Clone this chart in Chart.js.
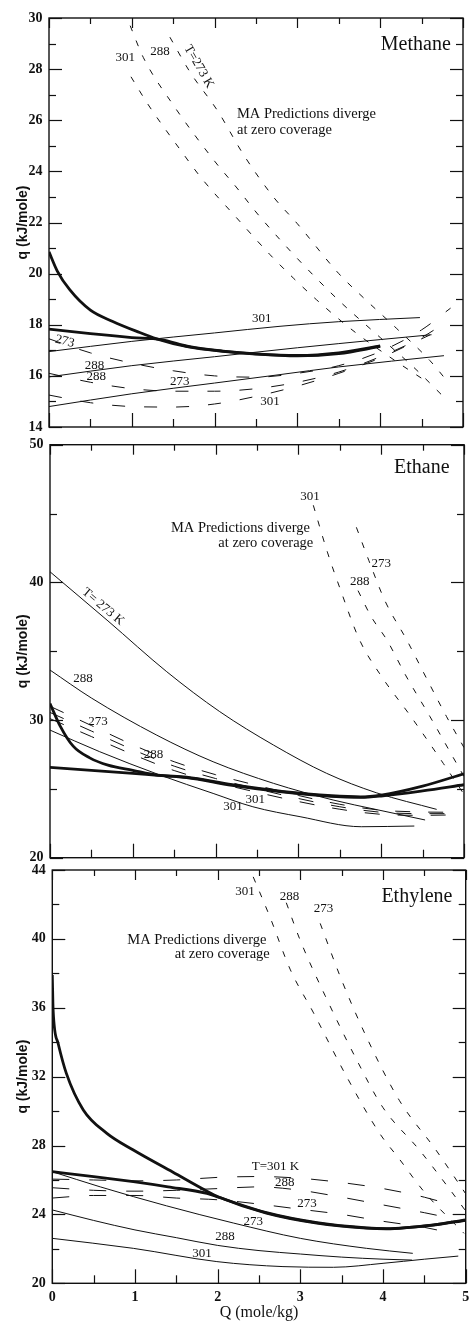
<!DOCTYPE html>
<html>
<head>
<meta charset="utf-8">
<title>Isosteric heats - Methane, Ethane, Ethylene</title>
<script src="https://cdn.jsdelivr.net/npm/chart.js@4.4.1/dist/chart.umd.min.js"></script>
<style>
  html, body { margin: 0; padding: 0; background: #fff; }
  body { width: 469px; height: 1324px; position: relative; overflow: hidden; }
  .panel { position: absolute; left: 0; width: 469px; }
</style>
</head>
<body>
<div class="panel" style="top:0;height:437px"><canvas id="methane"></canvas></div>
<div class="panel" style="top:437px;height:425px"><canvas id="ethane"></canvas></div>
<div class="panel" style="top:862px;height:462px"><canvas id="ethylene"></canvas></div>

<script>
// ============================================================
// Heat of adsorption q vs loading Q — three stacked panels
// ============================================================

// ── Axis ticks ───────────────────────────────────────────────
const qTicks = [0, 1, 2, 3, 4, 5];
const qHalfTicks = [0.5, 1.5, 2.5, 3.5, 4.5];

const methaneYTicks = [14, 16, 18, 20, 22, 24, 26, 28, 30];
const methaneYMinor = [15, 17, 19, 21, 23, 25, 27, 29];
const ethaneYTicks = [20, 30, 40, 50];
const ethaneYMinor = [25, 35, 45];
const ethyleneYTicks = [20, 24, 28, 32, 36, 40, 44];
const ethyleneYMinor = [22, 26, 30, 34, 38, 42];

// ── Methane series [Q, q] ────────────────────────────────────
const methaneThickA = [[0, 20.85], [0.1, 20.1], [0.25, 19.37], [0.5, 18.57], [0.77, 18.13], [1.06, 17.74], [1.3, 17.45], [1.7, 17.12], [2.1, 16.96], [2.5, 16.85], [3.0, 16.78], [3.5, 16.87], [4.0, 17.15]];
const methaneThickB = [[0, 17.83], [0.5, 17.65], [1.0, 17.5], [1.35, 17.42], [1.7, 17.14], [2.1, 16.97], [2.5, 16.86], [3.0, 16.8], [3.5, 16.9], [4.0, 17.17]];
const methaneSolid301 = [[0, 16.95], [1, 17.35], [2, 17.68], [2.79, 17.94], [3.5, 18.12], [4.48, 18.28]];
const methaneSolid288 = [[0, 15.96], [1, 16.4], [2, 16.75], [3, 17.1], [4, 17.42], [4.62, 17.61]];
const methaneSolid273 = [[0, 14.8], [1, 15.3], [2, 15.72], [2.79, 16.05], [3.5, 16.35], [4.77, 16.79]];
const methaneDash273 = [[0, 17.45], [0.5, 16.9], [1, 16.5], [1.5, 16.2], [2, 16.0], [2.5, 15.95], [3, 16.1], [3.5, 16.4], [4, 16.95], [4.5, 17.8], [4.85, 18.65]];
const methaneDash288 = [[0, 16.1], [0.5, 15.75], [1, 15.5], [1.5, 15.4], [2, 15.4], [2.5, 15.5], [3, 15.75], [3.5, 16.15], [4, 16.75], [4.5, 17.5], [4.75, 18.0]];
const methaneDash301 = [[0, 15.25], [0.5, 14.95], [1, 14.8], [1.5, 14.78], [2, 14.9], [2.5, 15.2], [3, 15.6], [3.5, 16.1], [4, 16.7], [4.4, 17.3], [4.6, 17.6]];
const methaneMA301 = [[0.99, 27.7], [1.2, 26.6], [1.6, 24.78], [1.84, 23.74], [2.25, 22.24], [2.67, 20.74], [2.95, 19.83], [3.23, 18.98], [3.7, 17.7], [4.2, 16.55], [4.55, 15.8]];
const methaneMA288 = [[0.98, 29.7], [1.14, 28.45], [1.5, 26.6], [2.0, 24.4], [2.27, 23.35], [2.51, 22.37], [2.79, 21.33], [3.07, 20.35], [3.49, 18.98], [4.0, 17.5], [4.4, 16.35], [4.76, 15.2]];
const methaneMA273 = [[1.46, 29.25], [1.7, 27.9], [2.04, 26.35], [2.35, 24.65], [2.71, 23.0], [3.0, 21.95], [3.5, 20.0], [3.8, 19.05], [4.2, 17.85], [4.6, 16.6], [4.82, 15.75]];

// ── Ethane series ────────────────────────────────────────────
const ethaneThin273 = [[0, 40.77], [0.7, 37.2], [1.41, 33.51], [2.05, 30.61], [2.7, 28.18], [3.34, 26.13], [3.94, 24.72], [4.67, 23.51]];
const ethaneThin288 = [[0, 33.63], [0.5, 31.6], [1.29, 28.9], [1.97, 26.97], [2.7, 25.4], [3.42, 24.19], [3.94, 23.5], [4.53, 22.74]];
const ethaneThin301 = [[0, 29.27], [0.6, 27.7], [1.33, 26.0], [1.97, 24.67], [2.45, 23.7], [3.02, 22.98], [3.76, 22.25], [4.4, 22.3]];
const ethaneDash273 = [[0, 31.0], [0.5, 29.6], [1.0, 28.2], [1.5, 26.97], [2.0, 26.03], [2.5, 25.25], [3.0, 24.52], [3.5, 23.88], [4.0, 23.45], [4.5, 23.32], [4.8, 23.3]];
const ethaneDash288 = [[0, 30.55], [0.5, 29.2], [1.0, 27.85], [1.5, 26.65], [2.0, 25.75], [2.5, 25.0], [3.0, 24.3], [3.5, 23.7], [4.0, 23.3], [4.5, 23.2], [4.8, 23.2]];
const ethaneDash301 = [[0, 30.1], [0.5, 28.8], [1.0, 27.5], [1.5, 26.33], [2.0, 25.47], [2.5, 24.75], [3.0, 24.08], [3.5, 23.52], [4.0, 23.15], [4.5, 23.08], [4.8, 23.1]];
const ethaneThickA = [[0, 31.2], [0.12, 29.6], [0.28, 28.1], [0.48, 27.25], [0.7, 26.72], [1.0, 26.35], [1.3, 26.0], [1.65, 25.85], [2.2, 25.3], [2.8, 24.82], [3.4, 24.5], [3.75, 24.42], [4.0, 24.55], [4.5, 25.2], [5.0, 26.1]];
const ethaneThickB = [[0, 26.56], [0.5, 26.35], [1.0, 26.13], [1.3, 25.98], [1.65, 25.82], [2.2, 25.25], [2.8, 24.78], [3.4, 24.45], [3.75, 24.38], [4.0, 24.48], [4.5, 24.85], [5.0, 25.3]];
const ethaneMA301 = [[3.18, 45.6], [3.35, 42.2], [3.5, 39.6], [3.74, 35.8], [4.0, 33.2], [4.36, 30.24], [4.75, 26.85], [5.0, 24.6]];
const ethaneMA288 = [[3.72, 39.4], [3.88, 37.5], [4.07, 35.8], [4.3, 33.2], [4.59, 30.24], [4.91, 26.85], [5.0, 25.9]];
const ethaneMA273 = [[3.7, 44.0], [3.85, 41.6], [4.05, 38.6], [4.31, 35.8], [4.55, 33.0], [4.79, 30.24], [5.0, 28.0]];

// ── Ethylene series ──────────────────────────────────────────
const ethyleneThickA = [[0, 37.9], [0.01, 35.87], [0.07, 33.94], [0.17, 32.19], [0.375, 30.07], [0.66, 28.71], [0.98, 27.74], [1.46, 26.45], [1.87, 25.35], [2.02, 25.0], [2.59, 24.07], [3.2, 23.49], [3.8, 23.2], [4.04, 23.16], [4.61, 23.39], [5.0, 23.68]];
const ethyleneThickB = [[0, 26.48], [0.5, 26.2], [0.98, 25.9], [1.4, 25.6], [1.87, 25.22], [2.02, 24.98], [2.59, 24.1], [3.2, 23.52], [3.8, 23.22], [4.04, 23.18], [4.61, 23.38], [5.0, 23.66]];
const ethyleneThin273 = [[0, 26.48], [0.58, 25.6], [1.38, 24.5], [2.19, 23.5], [3.0, 22.61], [3.8, 22.03], [4.36, 21.74]];
const ethyleneThin288 = [[0, 24.26], [0.5, 23.65], [1.0, 23.1], [1.5, 22.65], [2.0, 22.2], [2.5, 21.9], [3.0, 21.7], [3.5, 21.52], [4.0, 21.4], [4.35, 21.35]];
const ethyleneThin301 = [[0, 22.61], [0.98, 22.03], [1.99, 21.26], [2.79, 20.97], [3.4, 20.93], [4.0, 21.16], [4.5, 21.4], [4.91, 21.58]];
const ethyleneDash301 = [[0, 26.05], [0.5, 26.0], [1.0, 25.95], [1.5, 26.0], [2.0, 26.15], [2.5, 26.2], [3.0, 26.1], [3.5, 25.85], [4.0, 25.5], [4.5, 25.0], [4.8, 24.6]];
const ethyleneDash288 = [[0, 25.55], [0.5, 25.4], [1.0, 25.35], [1.5, 25.4], [2.0, 25.5], [2.5, 25.6], [3.0, 25.4], [3.5, 25.0], [4.0, 24.55], [4.5, 24.1], [4.8, 23.8]];
const ethyleneDash273 = [[0, 24.95], [0.5, 25.1], [1.0, 25.1], [1.5, 24.95], [2.0, 24.85], [2.5, 24.6], [3.0, 24.3], [3.5, 24.0], [4.0, 23.6], [4.5, 23.25], [4.7, 23.05]];
const ethyleneMA301 = [[2.43, 43.6], [2.63, 41.3], [2.88, 38.2], [3.16, 35.7], [3.56, 32.0], [3.96, 28.7], [4.2, 27.2], [4.5, 25.3], [4.98, 22.9]];
const ethyleneMA288 = [[2.83, 42.1], [3.0, 39.9], [3.3, 36.7], [3.7, 32.8], [4.0, 30.2], [4.44, 27.74], [4.8, 25.5], [5.0, 24.2]];
const ethyleneMA273 = [[3.24, 40.9], [3.5, 37.6], [3.8, 34.3], [4.2, 30.6], [4.64, 27.74], [5.0, 25.2]];

// ── Styles ───────────────────────────────────────────────────
const INK = '#111';
const SERIF = "'Liberation Serif', 'DejaVu Serif', serif";
const SANS = "'Liberation Sans', Arial, sans-serif";

const KINDS = {
    thick: { borderWidth: 2.8, borderDash: [] },
    thin:  { borderWidth: 1,   borderDash: [] },
    ma:    { borderWidth: 1,   borderDash: [6, 10] },
    other: { borderWidth: 1,   borderDash: [13, 19] },
    triple:{ borderWidth: 1,   borderDash: [15, 18] },
    flat:  { borderWidth: 1,   borderDash: [17, 20] }
};

function line(points, kind) {
    return {
        data: points.map(([x, y]) => ({ x, y })),
        showLine: true,
        pointRadius: 0,
        pointHoverRadius: 0,
        borderColor: INK,
        backgroundColor: INK,
        fill: false,
        cubicInterpolationMode: 'monotone',
        ...KINDS[kind]
    };
}

// ── Frame, inward ticks and text labels ──────────────────────
function framePlugin(cfg) {
    return {
        id: 'frame_' + cfg.id,
        afterDatasetsDraw(chart) {
            const { ctx, chartArea: a, scales: { x, y } } = chart;
            ctx.save();
            ctx.strokeStyle = INK;
            ctx.lineWidth = 1.4;
            ctx.strokeRect(a.left, a.top, a.right - a.left, a.bottom - a.top);

            const seg = (x1, y1, x2, y2) => {
                ctx.beginPath(); ctx.moveTo(x1, y1); ctx.lineTo(x2, y2); ctx.stroke();
            };
            ctx.lineWidth = 1.2;
            qTicks.forEach(v => {
                const px = Math.round(x.getPixelForValue(v)) + 0.5;
                seg(px, a.bottom, px, a.bottom - 14);
                seg(px, a.top, px, a.top + 10);
            });
            qHalfTicks.forEach(v => {
                const px = Math.round(x.getPixelForValue(v)) + 0.5;
                seg(px, a.bottom, px, a.bottom - 8);
                seg(px, a.top, px, a.top + 6);
            });
            cfg.yTicks.forEach(v => {
                const py = Math.round(y.getPixelForValue(v)) + 0.5;
                seg(a.left, py, a.left + 13, py);
                seg(a.right, py, a.right - 13, py);
            });
            cfg.yMinor.forEach(v => {
                const py = Math.round(y.getPixelForValue(v)) + 0.5;
                seg(a.left, py, a.left + 7, py);
                seg(a.right, py, a.right - 7, py);
            });

            ctx.fillStyle = INK;
            ctx.textBaseline = 'middle';
            cfg.labels.forEach(l => {
                ctx.save();
                ctx.translate(x.getPixelForValue(l.x), y.getPixelForValue(l.y));
                if (l.rot) ctx.rotate(l.rot * Math.PI / 180);
                ctx.font = `${l.size || 13}px ${SERIF}`;
                ctx.textAlign = l.align || 'center';
                ctx.fillText(l.t, 0, 0);
                ctx.restore();
            });
            ctx.restore();
        }
    };
}

function makeChart(cfg) {
    return new Chart(document.getElementById(cfg.id), {
        type: 'scatter',
        data: { datasets: cfg.series.map(([pts, kind]) => line(pts, kind)) },
        options: {
            responsive: true,
            maintainAspectRatio: false,
            animation: false,
            events: [],
            layout: { padding: { top: cfg.padTop, right: cfg.padRight, left: 0, bottom: 0 } },
            plugins: { legend: { display: false }, tooltip: { enabled: false } },
            scales: {
                x: {
                    type: 'linear', min: 0, max: 5,
                    grid: { display: false, drawTicks: false },
                    border: { display: false },
                    afterBuildTicks: s => { s.ticks = qTicks.map(v => ({ value: v })); },
                    afterFit: s => { s.height = cfg.xHeight; s.paddingLeft = 0; s.paddingRight = 0; },
                    ticks: {
                        display: cfg.showX, autoSkip: false, maxRotation: 0, padding: 6, color: INK,
                        font: { family: SERIF, size: 14, weight: 'bold' }
                    },
                    title: {
                        display: cfg.showX, text: 'Q (mole/kg)', color: INK,
                        font: { family: SERIF, size: 16 }, padding: { top: 0, bottom: 1.4 }
                    }
                },
                y: {
                    type: 'linear', min: cfg.yMin, max: cfg.yMax,
                    grid: { display: false, drawTicks: false },
                    border: { display: false },
                    afterBuildTicks: s => { s.ticks = cfg.yTicks.map(v => ({ value: v })); },
                    afterFit: s => { s.width = cfg.yWidth; s.paddingTop = 0; s.paddingBottom = 0; },
                    ticks: {
                        autoSkip: false, padding: 6.5, color: INK,
                        font: { family: SERIF, size: 14, weight: 'bold' }
                    },
                    title: {
                        display: true, text: 'q (kJ/mole)', color: INK,
                        font: { family: SANS, size: 14, weight: 'bold' }, padding: { top: 15, bottom: 0 }
                    }
                }
            }
        },
        plugins: [framePlugin(cfg)]
    });
}

// ── Panels ───────────────────────────────────────────────────
makeChart({
    id: 'methane', yMin: 14, yMax: 30, yTicks: methaneYTicks, yMinor: methaneYMinor,
    padTop: 18, padRight: 6, yWidth: 49, xHeight: 10, showX: false,
    series: [
        [methaneMA301, 'ma'], [methaneMA288, 'ma'], [methaneMA273, 'ma'],
        [methaneDash273, 'other'], [methaneDash288, 'other'], [methaneDash301, 'other'],
        [methaneSolid301, 'thin'], [methaneSolid288, 'thin'], [methaneSolid273, 'thin'],
        [methaneThickA, 'thick'], [methaneThickB, 'thick']
    ],
    labels: [
        { t: 'Methane', x: 4.43, y: 28.96, size: 20 },
        { t: 'MA Predictions diverge', x: 2.27, y: 26.22, size: 14.5, align: 'left' },
        { t: 'at zero coverage', x: 2.27, y: 25.6, size: 14.5, align: 'left' },
        { t: '301', x: 0.92, y: 28.45 },
        { t: '288', x: 1.34, y: 28.68 },
        { t: 'T=273 K', x: 1.81, y: 28.1, rot: 60 },
        { t: '301', x: 2.57, y: 18.26 },
        { t: '273', x: 0.19, y: 17.35, rot: 15 },
        { t: '288', x: 0.55, y: 16.4 },
        { t: '288', x: 0.57, y: 15.96 },
        { t: '273', x: 1.58, y: 15.78 },
        { t: '301', x: 2.67, y: 15.0 }
    ]
});

makeChart({
    id: 'ethane', yMin: 20, yMax: 50, yTicks: ethaneYTicks, yMinor: ethaneYMinor,
    padTop: 7.7, padRight: 5, yWidth: 50, xHeight: 4.3, showX: false,
    series: [
        [ethaneMA301, 'ma'], [ethaneMA288, 'ma'], [ethaneMA273, 'ma'],
        [ethaneDash273, 'triple'], [ethaneDash288, 'triple'], [ethaneDash301, 'triple'],
        [ethaneThin273, 'thin'], [ethaneThin288, 'thin'], [ethaneThin301, 'thin'],
        [ethaneThickA, 'thick'], [ethaneThickB, 'thick']
    ],
    labels: [
        { t: 'Ethane', x: 4.49, y: 48.29, size: 20 },
        { t: 'MA Predictions diverge', x: 3.14, y: 43.92, size: 14.5, align: 'right' },
        { t: 'at zero coverage', x: 3.18, y: 42.83, size: 14.5, align: 'right' },
        { t: '301', x: 3.14, y: 46.2 },
        { t: '273', x: 4.0, y: 41.38 },
        { t: '288', x: 3.74, y: 40.04 },
        { t: 'T= 273 K', x: 0.64, y: 38.23, rot: 40 },
        { t: '288', x: 0.40, y: 33.03 },
        { t: '273', x: 0.58, y: 29.88 },
        { t: '288', x: 1.25, y: 27.46 },
        { t: '301', x: 2.21, y: 23.7 },
        { t: '301', x: 2.48, y: 24.19 }
    ]
});

makeChart({
    id: 'ethylene', yMin: 20, yMax: 44, yTicks: ethyleneYTicks, yMinor: ethyleneYMinor,
    padTop: 8, padRight: 3.3, yWidth: 52.3, xHeight: 40.7, showX: true,
    series: [
        [ethyleneMA301, 'ma'], [ethyleneMA288, 'ma'], [ethyleneMA273, 'ma'],
        [ethyleneDash301, 'flat'], [ethyleneDash288, 'flat'], [ethyleneDash273, 'flat'],
        [ethyleneThin273, 'thin'], [ethyleneThin288, 'thin'], [ethyleneThin301, 'thin'],
        [ethyleneThickA, 'thick'], [ethyleneThickB, 'thick']
    ],
    labels: [
        { t: 'Ethylene', x: 4.41, y: 42.45, size: 20 },
        { t: 'MA Predictions diverge', x: 2.59, y: 39.94, size: 14.5, align: 'right' },
        { t: 'at zero coverage', x: 2.63, y: 39.1, size: 14.5, align: 'right' },
        { t: '301', x: 2.33, y: 42.74 },
        { t: '288', x: 2.87, y: 42.45 },
        { t: '273', x: 3.28, y: 41.77 },
        { t: 'T=301 K', x: 2.70, y: 26.77 },
        { t: '288', x: 2.81, y: 25.84 },
        { t: '273', x: 3.08, y: 24.64 },
        { t: '273', x: 2.43, y: 23.6 },
        { t: '288', x: 2.09, y: 22.71 },
        { t: '301', x: 1.81, y: 21.74 }
    ]
});
</script>
</body>
</html>
